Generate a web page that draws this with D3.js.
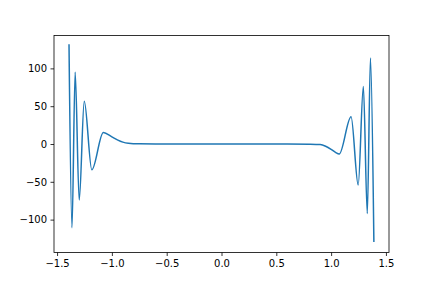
<!DOCTYPE html>
<html>
<head>
<meta charset="utf-8">
<script src="https://cdn.jsdelivr.net/npm/d3@7"></script>
<style>
html,body{margin:0;padding:0;background:#fff;}
svg{display:block;}
text{font-family:"DejaVu Sans",sans-serif;}
</style>
</head>
<body>
<svg id="chart" width="432" height="288"></svg>
<script>
// Data (peaks, troughs and the flat middle)
const xValues = [-1.391, -1.364, -1.335, -1.298, -1.252, -1.183, -1.078, -1.0, -0.95, -0.9, -0.85, -0.75, -0.6, 0.0, 0.6, 0.8, 0.9, 0.95, 1.0, 1.04, 1.074, 1.182, 1.247, 1.294, 1.330, 1.359, 1.390];
const yValues = [131.0, -110.8, 95.0, -74.1, 56.5, -34.1, 15.2, 9.5, 5.5, 2.5, 1.0, 0.2, 0.0, 0.0, 0.0, -0.3, -0.8, -3.0, -7.0, -11.0, -13.2, 36.1, -54.2, 76.1, -91.9, 113.8, -128.6];
const xTicks = [-1.5, -1.0, -0.5, 0.0, 0.5, 1.0, 1.5];
const xTickLabels = ["\u22121.5", "\u22121.0", "\u22120.5", "0.0", "0.5", "1.0", "1.5"];
const yTicks = [-100, -50, 0, 50, 100];
const yTickLabels = ["\u2212100", "\u221250", "0", "50", "100"];

const mLeft = 54, mRight = 389, mTop = 35.5, mBottom = 252.5;
const svg = d3.select("#chart");

const x = d3.scaleLinear().domain([-1.528, 1.528]).range([mLeft, mRight]);
const y = d3.scaleLinear().domain([-143.5, 143.5]).range([mBottom, mTop]);

const pts = xValues.map((v, i) => [v, yValues[i]]);

svg.append("path")
  .datum(pts)
  .attr("fill", "none")
  .attr("stroke", "#1f77b4")
  .attr("stroke-width", 1.5)
  .attr("stroke-linejoin", "round")
  .attr("stroke-linecap", "square")
  .attr("d", d3.line().x(d => x(d[0])).y(d => y(d[1])).curve(d3.curveMonotoneX));

const xAxis = d3.axisBottom(x).tickValues(xTicks)
  .tickFormat((d, i) => xTickLabels[i]).tickSize(3.5).tickPadding(3.5).tickSizeOuter(0);
const yAxis = d3.axisLeft(y).tickValues(yTicks)
  .tickFormat((d, i) => yTickLabels[i]).tickSize(3.5).tickPadding(3.5).tickSizeOuter(0);

const gx = svg.append("g").attr("transform", `translate(0,${mBottom})`).call(xAxis);
const gy = svg.append("g").attr("transform", `translate(${mLeft},0)`).call(yAxis);
[gx, gy].forEach(g => {
  g.select(".domain").remove();
  g.selectAll(".tick line").attr("stroke", "#000").attr("stroke-width", 0.8);
  g.selectAll(".tick text").attr("fill", "#000").style("font-size", "10px").style("font-family", "DejaVu Sans");
});

svg.append("rect")
  .attr("x", mLeft).attr("y", mTop)
  .attr("width", mRight - mLeft).attr("height", mBottom - mTop)
  .attr("fill", "none").attr("stroke", "#000").attr("stroke-width", 0.8);
</script>
</body>
</html>
